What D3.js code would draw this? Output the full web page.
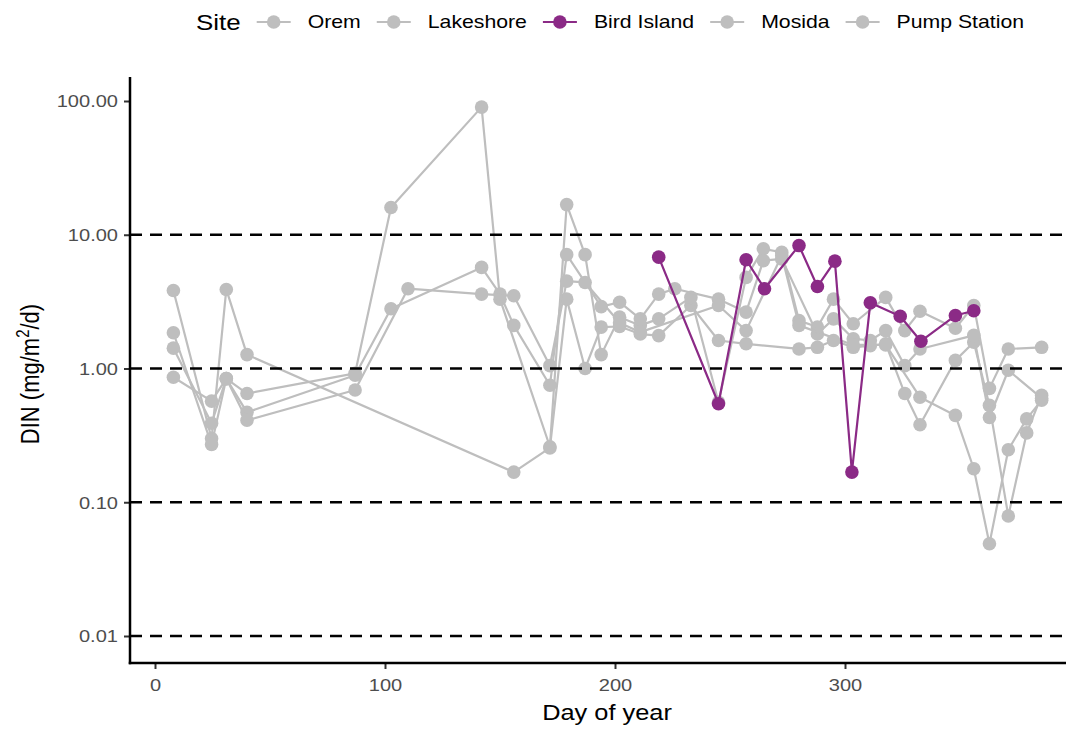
<!DOCTYPE html>
<html><head><meta charset="utf-8">
<script src="https://cdn.jsdelivr.net/npm/d3@7/dist/d3.min.js"></script>
<style>
html,body{margin:0;padding:0;background:#fff;}
svg{display:block;}
</style></head>
<body>
<svg id="chart" width="1070" height="731"></svg>
<script>
// ---------------- data ----------------
const siteNames = ["Orem", "Lakeshore", "Bird Island", "Mosida", "Pump Station"];
const highlightSite = "Bird Island";

const oremDay = [8,24.6,31,40,156,171.7,179,187,194,202,211,219,233,245,257,280,288,295,303.6,311,317.7,326,332.6,348,356,362.8,371,379,385.5];
const oremDIN = [3.83,0.30,3.9,1.27,0.168,0.255,3.3,1.0,2.04,2.06,1.81,1.76,2.96,1.62,1.53,1.4,1.44,1.62,1.44,1.48,1.53,0.65,0.38,1.15,1.57,0.53,0.079,0.33,0.63];

const lakeshoreDay = [8,24.6,31,40,87,102.6,142,150,171.7,179,187,194,202,211,219,233,245,257,264.5,272.5,280,288,295,303.6,317.7,326,332.6,348,356,362.8,371,385.5];
const lakeshoreDIN = [1.85,0.27,0.84,0.65,0.92,16,90,3.3,0.26,16.8,7.1,1.27,2.42,2.1,2.35,3.4,0.56,4.8,7.85,7.4,2.28,2.04,3.3,2.16,3.4,1.92,2.68,2.0,2.96,0.71,1.4,1.44];

const birdIslandDay = [219,245,257,265,280,288,295.6,303,311,324,333,348,356];
const birdIslandDIN = [6.8,0.545,6.5,3.95,8.3,4.1,6.35,0.168,3.1,2.46,1.6,2.49,2.7];

const mosidaDay = [8,24.6,31,40,87,102.6,142,150,156,171.7,179,194,202,211,219,226,245,257,264.5,272.5,288,295,303.6,311,317.7,326,332.6,356,362.8,371,385.5];
const mosidaDIN = [1.42,0.39,0.84,0.47,0.89,2.8,5.7,3.6,2.1,0.75,7.1,2.9,3.13,2.35,3.6,3.95,3.3,2.64,6.4,6.6,1.81,2.35,1.67,1.62,1.92,1.05,1.4,1.77,0.43,0.97,0.60];

const pumpStationDay = [8,24.6,31,40,87,110,142,156,171.7,179,187,202,211,245,257,272.5,280,303.6,317.7,332.6,348,356,362.8,371,379,385.5];
const pumpStationDIN = [0.86,0.57,0.84,0.41,0.69,3.95,3.6,3.5,1.05,4.5,4.4,2.2,1.87,2.96,1.92,7.0,2.1,1.5,1.5,0.61,0.446,0.178,0.049,0.247,0.42,0.58];

const yTickValues = [0.01, 0.1, 1, 10, 100];
const xTickValues = [0, 100, 200, 300];
const refLineValues = [0.01, 0.1, 1, 10];

const series = [
  {site: "Orem", day: oremDay, din: oremDIN},
  {site: "Lakeshore", day: lakeshoreDay, din: lakeshoreDIN},
  {site: "Bird Island", day: birdIslandDay, din: birdIslandDIN},
  {site: "Mosida", day: mosidaDay, din: mosidaDIN},
  {site: "Pump Station", day: pumpStationDay, din: pumpStationDIN}
];

// ---------------- layout / style ----------------
const FONT = "'Liberation Sans', Arial, Helvetica, sans-serif";
const SX = 1.18;
const GREY = "#BEBEBE", PURPLE = "#8B2A86";
const P = {l: 130, r: 1066, t: 77, b: 663};
const R = 6.8, LW = 2.2;

const svg = d3.select("#chart").style("font-family", FONT);
const x = d3.scaleLinear().domain([0, 300]).range([155, 845]);
const y = d3.scaleLog().domain([0.01, 100]).range([636, 101]);
const colour = s => s === highlightSite ? PURPLE : GREY;

// ---------------- data layer ----------------
const line = d3.line().x(d => x(d[0])).y(d => y(d[1]));
const ordered = series.filter(s => s.site !== highlightSite).concat(series.filter(s => s.site === highlightSite));
const gData = svg.append("g");
ordered.forEach(s => {
  const pts = s.day.map((d, i) => [d, s.din[i]]);
  const g = gData.append("g");
  g.append("path").attr("d", line(pts)).attr("fill", "none")
    .attr("stroke", colour(s.site)).attr("stroke-width", LW).attr("stroke-linejoin", "round");
  g.selectAll("circle").data(pts).join("circle")
    .attr("cx", d => x(d[0])).attr("cy", d => y(d[1])).attr("r", R).attr("fill", colour(s.site));
});

// reference dashed lines
svg.append("g").selectAll("line").data(refLineValues).join("line")
  .attr("x1", P.l).attr("x2", P.r).attr("y1", d => y(d)).attr("y2", d => y(d))
  .attr("stroke", "#000").attr("stroke-width", 2.5).attr("stroke-dasharray", "12,8");

// ---------------- axes ----------------
const gy = svg.append("g").attr("transform", `translate(${P.l},0)`)
  .call(d3.axisLeft(y).tickValues(yTickValues).tickFormat(d3.format(".2f")).tickSize(6));
gy.select(".domain").remove();
gy.selectAll(".tick line").attr("stroke", "#333").attr("stroke-width", 2);
gy.selectAll(".tick text").attr("x", 0).attr("dy", "0.35em")
  .attr("transform", `translate(-12,0) scale(${SX},1)`)
  .attr("fill", "#4D4D4D").style("font-size", "17px").style("font-family", FONT);

const gx = svg.append("g").attr("transform", `translate(0,${P.b})`)
  .call(d3.axisBottom(x).tickValues(xTickValues).tickFormat(d3.format("d")).tickSize(6));
gx.select(".domain").remove();
gx.selectAll(".tick line").attr("stroke", "#333").attr("stroke-width", 2);
gx.selectAll(".tick text").attr("y", 0).attr("dy", "0.71em")
  .attr("transform", `translate(0,16) scale(${SX},1)`)
  .attr("fill", "#4D4D4D").style("font-size", "17px").style("font-family", FONT);

// axis lines
svg.append("line").attr("x1", P.l).attr("x2", P.l).attr("y1", P.t).attr("y2", P.b + 1.25)
  .attr("stroke", "#000").attr("stroke-width", 2.5);
svg.append("line").attr("x1", P.l - 1.25).attr("x2", P.r).attr("y1", P.b).attr("y2", P.b)
  .attr("stroke", "#000").attr("stroke-width", 2.5);

// axis titles
svg.append("text").text("Day of year")
  .attr("transform", `translate(${(P.l + P.r) / 2 + 9},712) scale(${SX},1)`)
  .attr("text-anchor", "middle").attr("dy", "0.35em").style("font-size", "21.5px").attr("fill", "#000");

const yt = svg.append("text")
  .attr("transform", `translate(30,${(P.t + P.b) / 2 + 4}) scale(${SX},1) rotate(-90)`)
  .attr("text-anchor", "middle").attr("dy", "0.35em").style("font-size", "22px").attr("fill", "#000");
yt.append("tspan").text("DIN (mg/m");
yt.append("tspan").text("2").style("font-size", "15px").attr("dy", "-0.55em");
yt.append("tspan").text("/d)").attr("dy", "0.38em");

// ---------------- legend ----------------
const lg = svg.append("g");
const ly = 22;
let cx = 196;
const lt = lg.append("text").text("Site")
  .attr("transform", `translate(${cx},${ly}) scale(${SX},1)`).attr("dy", "0.35em")
  .style("font-size", "22px").attr("fill", "#000");
cx += lt.node().getComputedTextLength() * SX + 33;
siteNames.forEach(s => {
  const c = colour(s);
  lg.append("line").attr("x1", cx - 17).attr("x2", cx + 17).attr("y1", ly).attr("y2", ly)
    .attr("stroke", c).attr("stroke-width", LW);
  lg.append("circle").attr("cx", cx).attr("cy", ly).attr("r", R).attr("fill", c);
  const t = lg.append("text").text(s)
    .attr("transform", `translate(${cx + 34},${ly}) scale(${SX},1)`).attr("dy", "0.35em")
    .style("font-size", "18px").attr("fill", "#000");
  cx += 34 + t.node().getComputedTextLength() * SX + 33;
});
</script>
</body></html>
